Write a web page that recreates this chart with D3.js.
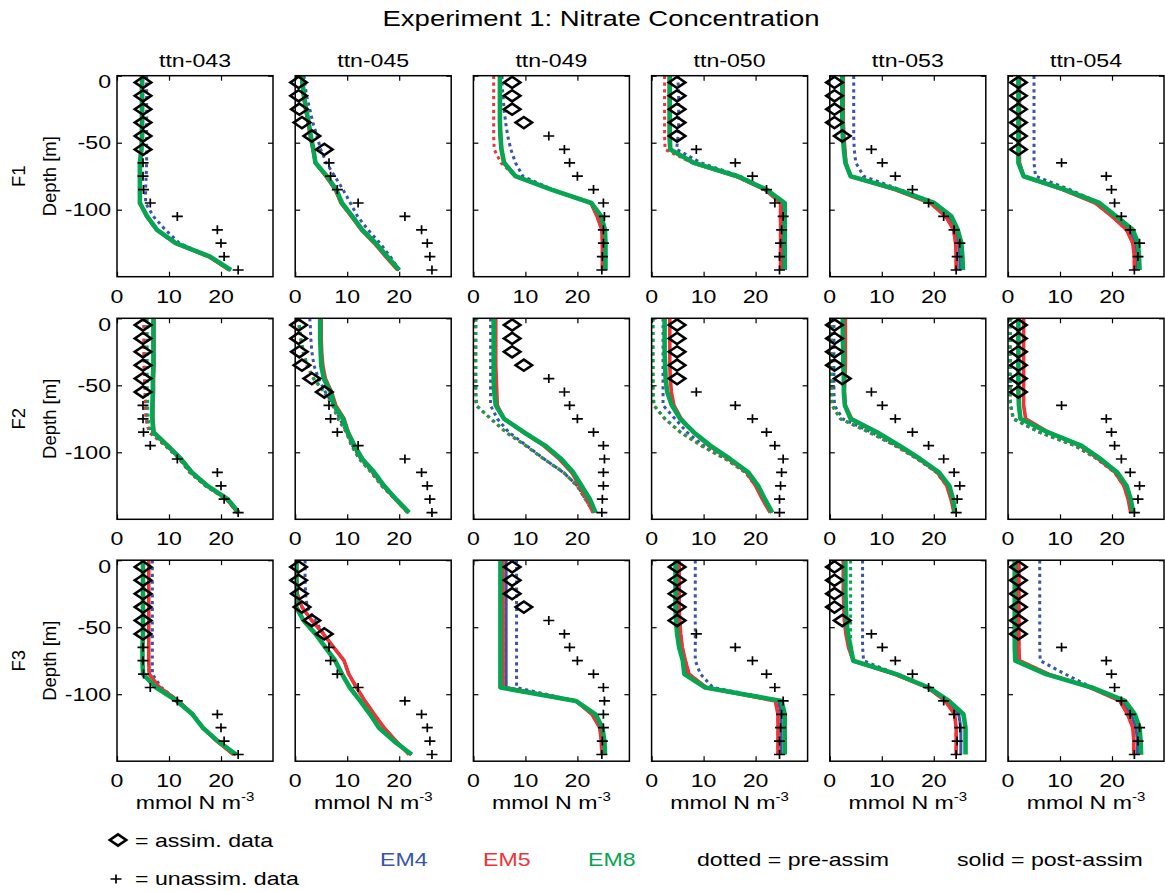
<!DOCTYPE html>
<html><head><meta charset="utf-8">
<script src="https://cdn.jsdelivr.net/npm/d3@7"></script>
<style>body{margin:0;background:#fff} svg{display:block} text{font-family:"Liberation Sans",Arial,Helvetica,sans-serif;}</style>
</head><body><svg id="c" width="1165" height="891"></svg>
<script>
// ---------------- data ----------------
const stations = ["ttn-043","ttn-045","ttn-049","ttn-050","ttn-053","ttn-054"];
const rowLabels = ["F1","F2","F3"];
const depths = [0,-5,-15,-25,-35,-45,-55,-65,-75,-85,-95,-105,-115,-125,-135,-145];
const xTicks = [0,10,20];
const yTicks = [0,-50,-100];

// observations (same in every row)
const assimDepth = [[-5,-15,-25,-35,-45,-55],[-5,-15,-25,-35,-45,-55],[-5,-15,-25,-35],[-5,-15,-25,-35,-45],[-5,-15,-25,-35,-45],[-5,-15,-25,-35,-45,-55]];
const assimVal = [[5.0,5.0,5.0,5.0,5.0,5.0],[0.65,0.65,0.8,1.3,3.2,5.6],[7.45,7.45,7.45,9.7],[4.9,4.9,4.9,4.9,4.9],[0.9,0.9,0.9,0.9,2.4],[2.0,2.0,2.0,2.0,2.0,2.0]];
const unassimDepth = [
 [-65,-75,-85,-95,-105,-115,-125,-135,-145],
 [-65,-75,-85,-95,-105,-115,-125,-135,-145],
 [-45,-55,-65,-75,-85,-95,-105,-115,-125,-135,-145],
 [-55,-65,-75,-85,-95,-105,-115,-125,-135,-145],
 [-55,-65,-75,-85,-95,-105,-115,-125,-135,-145],
 [-65,-75,-85,-95,-105,-115,-125,-135,-145]];
const unassimVal = [
 [5.0,5.0,5.1,6.4,11.6,19.3,20.0,20.6,23.3],
 [6.5,6.8,8.1,12.1,21.1,24.3,25.4,25.9,26.3],
 [14.5,17.5,18.5,20.0,23.1,25.0,25.2,25.0,25.0,24.8,24.7],
 [8.6,16.1,19.4,22.1,23.7,25.3,25.0,24.8,24.6,24.6],
 [8.0,10.1,12.6,15.9,19.0,21.9,23.9,25.0,24.5,24.3],
 [10.3,18.9,19.9,20.5,21.8,23.5,25.3,25.0,24.3]];

// ---- F1 model profiles (one row per station, values at `depths`) ----
const F1_EM4_pre = [
 [5.7,5.7,5.7,5.7,5.7,5.7,5.7,5.7,5.6,5.5,5.5,7.0,9.3,12.0,17.9,21.9],
 [1.7,1.8,2.2,2.8,3.4,4.2,4.9,6.0,7.6,9.2,10.6,12.0,14.0,16.3,18.3,20.0],
 [5.5,5.5,5.7,5.9,6.2,6.6,7.2,8.1,9.5,15.2,22.7,24.6,25.3,25.4,25.4,25.4],
 [5.1,5.1,5.2,5.2,5.2,5.1,4.8,9.5,17.0,22.1,25.6,25.6,25.6,25.6,25.6,25.6],
 [4.6,4.6,4.6,4.6,4.6,4.6,4.7,5.0,6.5,13.5,20.1,23.4,24.6,25.3,25.5,25.6],
 [5.0,5.0,5.0,5.0,5.0,5.0,5.0,5.0,5.3,11.9,17.6,20.8,24.0,25.0,25.2,25.3]];
const F1_EM5_pre = [
 [4.9,4.9,4.9,4.9,4.9,4.9,4.7,4.4,4.4,4.4,4.4,5.7,7.6,11.2,17.6,21.6],
 [1.2,1.3,1.6,2.0,2.5,2.9,3.4,3.9,5.9,7.7,8.8,10.8,12.7,15.2,17.4,19.7],
 [3.9,3.9,3.9,3.9,3.9,3.9,4.0,5.3,8.0,15.0,22.6,23.8,24.7,24.8,24.8,24.8],
 [2.5,2.5,2.5,2.5,2.5,2.5,2.6,7.8,16.2,21.8,24.8,24.8,24.8,24.8,24.8,24.8],
 [2.6,2.6,2.6,2.6,2.6,2.7,2.9,3.1,4.0,12.5,19.3,22.3,23.8,24.2,24.3,24.3],
 [2.2,2.2,2.2,2.2,2.2,2.2,2.2,2.2,3.0,10.5,16.8,20.0,22.8,24.0,24.3,24.3]];
const F1_EM8_pre = [
 [4.8,4.8,4.8,4.8,4.8,4.8,4.7,4.4,4.4,4.4,4.4,5.8,7.7,11.3,17.9,21.9],
 [1.3,1.4,1.7,2.1,2.6,3.0,3.5,3.9,6.1,7.9,9.0,11.0,12.9,15.5,17.7,20.0],
 [5.1,5.1,5.1,5.1,5.1,5.2,5.4,5.9,8.1,15.0,22.7,24.6,25.3,25.4,25.4,25.4],
 [3.5,3.5,3.5,3.5,3.5,3.5,3.6,8.1,16.5,22.1,25.6,25.6,25.6,25.6,25.6,25.6],
 [2.4,2.4,2.4,2.4,2.4,2.5,2.7,3.0,4.0,13.0,20.1,23.4,24.6,25.3,25.5,25.6],
 [2.0,2.0,2.0,2.0,2.0,2.0,2.0,2.0,3.0,10.9,17.6,20.8,24.0,25.0,25.2,25.3]];
const F1_EM4_post = [
 [4.8,4.8,4.8,4.8,4.8,4.8,4.7,4.4,4.4,4.4,4.4,5.8,7.7,11.3,17.9,21.9],
 [1.3,1.4,1.7,2.1,2.6,3.0,3.5,3.9,6.1,7.9,9.0,11.0,12.9,15.5,17.7,20.0],
 [5.1,5.1,5.1,5.1,5.1,5.2,5.4,5.9,8.1,15.0,22.7,24.3,25.0,25.1,25.1,25.1],
 [3.5,3.5,3.5,3.5,3.5,3.5,3.6,8.1,16.4,22.0,25.2,25.2,25.2,25.2,25.2,25.2],
 [2.5,2.5,2.5,2.5,2.5,2.6,2.8,3.0,4.0,12.8,19.7,22.9,24.2,24.8,25.0,25.0],
 [2.1,2.1,2.1,2.1,2.1,2.1,2.1,2.1,3.0,10.7,17.2,20.4,23.4,24.5,24.8,24.8]];
const F1_EM5_post = [
 [4.9,4.9,4.9,4.9,4.9,4.9,4.7,4.4,4.4,4.4,4.4,5.7,7.6,11.2,17.6,21.6],
 [1.2,1.3,1.6,2.0,2.5,2.9,3.4,3.9,5.9,7.7,8.8,10.8,12.7,15.2,17.4,19.7],
 [5.1,5.1,5.1,5.1,5.1,5.2,5.4,5.9,8.1,15.0,22.6,23.8,24.7,24.8,24.8,24.8],
 [3.4,3.4,3.4,3.4,3.4,3.4,3.5,8.0,16.2,21.8,24.8,24.8,24.8,24.8,24.8,24.8],
 [2.6,2.6,2.6,2.6,2.6,2.7,2.9,3.1,4.0,12.5,19.3,22.3,23.8,24.2,24.3,24.3],
 [2.2,2.2,2.2,2.2,2.2,2.2,2.2,2.2,3.0,10.5,16.8,20.0,22.8,24.0,24.3,24.3]];
const F1_EM8_post = [
 [4.8,4.8,4.8,4.8,4.8,4.8,4.7,4.4,4.4,4.4,4.4,5.8,7.7,11.3,17.9,21.9],
 [1.3,1.4,1.7,2.1,2.6,3.0,3.5,3.9,6.1,7.9,9.0,11.0,12.9,15.5,17.7,20.0],
 [5.1,5.1,5.1,5.1,5.1,5.2,5.4,5.9,8.1,15.0,22.7,24.6,25.3,25.4,25.4,25.4],
 [3.5,3.5,3.5,3.5,3.5,3.5,3.6,8.1,16.5,22.1,25.6,25.6,25.6,25.6,25.6,25.6],
 [2.4,2.4,2.4,2.4,2.4,2.5,2.7,3.0,4.0,13.0,20.1,23.4,24.6,25.3,25.5,25.6],
 [2.0,2.0,2.0,2.0,2.0,2.0,2.0,2.0,3.0,10.9,17.6,20.8,24.0,25.0,25.2,25.3]];

// ---- F2 ----
const F2_EM4_pre = [
 [5.2,5.2,5.2,5.2,5.2,5.3,5.4,5.5,5.6,6.2,9.3,12.0,14.0,17.0,21.0,23.2],
 [2.8,2.9,3.0,3.2,3.6,4.5,5.8,7.4,8.6,9.9,11.0,12.6,14.8,16.8,19.4,21.8],
 [3.3,3.3,3.3,3.3,3.3,3.3,3.3,3.3,4.6,6.8,10.2,13.6,17.3,20.0,21.6,23.1],
 [2.2,2.2,2.2,2.2,2.2,2.2,2.2,2.2,4.5,6.8,10.0,14.4,18.1,20.1,21.5,23.0],
 [0.8,0.8,0.8,0.8,0.8,0.8,0.8,0.9,2.5,8.0,12.8,17.0,20.6,22.6,23.4,24.0],
 [0.4,0.4,0.4,0.4,0.4,0.4,0.4,0.5,1.0,6.0,12.8,17.2,20.5,22.3,23.2,23.7]];
const F2_EM5_pre = [
 [5.2,5.2,5.2,5.2,5.2,5.3,5.4,5.5,5.6,6.2,9.3,12.0,14.0,17.0,21.0,23.2],
 [0.6,0.7,1.0,1.5,2.2,3.5,5.5,7.2,8.2,9.8,10.8,12.3,14.6,16.6,19.2,21.6],
 [0.4,0.4,0.4,0.4,0.4,0.4,0.4,0.5,3.3,6.2,10.0,13.5,17.3,19.9,21.5,23.1],
 [0.2,0.2,0.2,0.2,0.2,0.2,0.2,0.4,2.5,5.5,9.5,14.2,18.0,20.0,21.4,23.0],
 [0.3,0.3,0.3,0.3,0.3,0.3,0.3,0.4,2.0,7.5,12.5,16.8,20.5,22.5,23.3,23.9],
 [0.4,0.4,0.4,0.4,0.4,0.4,0.4,0.5,1.0,6.0,12.8,17.2,20.5,22.3,23.2,23.7]];
const F2_EM8_pre = [
 [5.8,5.8,5.8,5.8,5.8,5.8,5.8,5.9,6.0,6.5,9.5,12.1,14.1,17.1,21.1,23.3],
 [0.7,0.8,1.1,1.6,2.3,3.6,5.6,7.3,8.3,9.9,10.9,12.4,14.7,16.7,19.3,21.7],
 [0.5,0.5,0.5,0.5,0.5,0.5,0.5,0.6,3.4,6.3,10.1,13.6,17.4,20.0,21.6,23.2],
 [0.3,0.3,0.3,0.3,0.3,0.3,0.3,0.5,2.6,5.6,9.6,14.3,18.1,20.1,21.5,23.1],
 [0.3,0.3,0.3,0.3,0.3,0.3,0.3,0.5,2.1,7.6,12.6,16.9,20.6,22.6,23.4,24.0],
 [0.4,0.4,0.4,0.4,0.4,0.4,0.4,0.5,1.1,6.1,12.9,17.3,20.6,22.4,23.3,23.8]];
const F2_EM4_post = [
 [7.0,7.0,7.0,7.0,7.0,6.9,6.9,6.8,6.8,7.0,9.7,12.3,14.4,17.4,21.3,23.4],
 [4.8,4.8,4.8,4.9,5.0,5.5,6.8,7.5,9.2,10.1,11.4,12.9,15.2,17.1,19.4,21.9],
 [3.9,3.9,3.9,3.9,3.9,3.9,4.0,4.3,5.9,9.7,13.8,16.9,19.2,20.8,22.4,23.5],
 [2.5,2.5,2.5,2.5,2.6,2.7,3.0,3.9,5.5,8.1,11.3,15.1,18.6,20.5,21.8,23.2],
 [2.5,2.5,2.5,2.6,2.6,2.7,2.7,2.9,4.0,9.1,13.4,17.4,21.0,23.0,23.7,24.1],
 [2.0,2.0,2.0,2.0,2.0,2.0,2.0,2.1,2.4,7.6,14.1,17.8,21.0,22.8,23.6,24.1]];
const F2_EM5_post = [
 [7.1,7.1,7.1,7.1,7.1,7.0,7.0,6.9,6.9,7.1,9.8,12.3,14.4,17.3,21.1,23.2],
 [5.0,5.0,5.0,5.1,5.3,5.8,7.0,7.8,9.4,10.2,11.4,12.9,15.1,17.0,19.3,21.7],
 [4.3,4.3,4.3,4.3,4.3,4.4,4.5,4.6,5.9,9.6,13.5,16.5,18.9,20.4,21.9,23.0],
 [3.5,3.5,3.5,3.5,3.5,3.6,3.8,4.3,5.7,8.0,11.0,14.8,18.3,20.0,21.3,22.8],
 [3.0,3.0,3.0,3.0,3.0,2.9,2.8,3.0,4.2,9.0,13.2,17.2,20.7,22.5,23.3,23.9],
 [3.0,3.0,3.0,3.0,3.0,3.0,3.0,3.0,3.4,7.8,13.8,17.4,20.6,22.3,23.1,23.6]];
const F2_EM8_post = [
 [7.0,7.0,7.0,7.0,7.0,6.9,6.9,6.8,6.8,7.0,9.7,12.3,14.4,17.4,21.3,23.4],
 [4.8,4.8,4.8,4.9,5.0,5.5,6.8,7.5,9.2,10.1,11.4,12.9,15.2,17.1,19.4,21.9],
 [3.9,3.9,3.9,3.9,3.9,3.9,4.0,4.3,5.9,9.7,13.8,16.9,19.2,20.8,22.4,23.5],
 [2.5,2.5,2.5,2.5,2.6,2.7,3.0,3.9,5.5,8.1,11.3,15.1,18.6,20.5,21.8,23.2],
 [2.5,2.5,2.5,2.6,2.6,2.7,2.7,2.9,4.0,9.1,13.4,17.4,21.0,23.0,23.7,24.1],
 [2.0,2.0,2.0,2.0,2.0,2.0,2.0,2.1,2.4,7.6,14.1,17.8,21.0,22.8,23.6,24.1]];

// ---- F3 ----
const F3_EM4_pre = [
 [6.8,6.8,6.8,6.8,6.8,6.8,6.8,6.8,6.8,6.8,8.5,11.8,14.6,16.5,19.2,22.4],
 [1.9,1.9,1.9,2.0,2.3,3.8,5.5,7.4,9.4,10.3,11.8,13.4,15.2,17.1,19.4,21.9],
 [8.3,8.3,8.3,8.3,8.3,8.3,8.3,8.3,8.3,8.3,8.3,19.7,23.5,24.8,25.2,25.3],
 [8.4,8.4,8.4,8.4,8.4,8.4,8.4,8.4,8.4,9.4,11.8,25.0,25.6,25.6,25.6,25.6],
 [6.3,6.3,6.3,6.3,6.3,6.3,6.3,6.3,6.5,12.8,19.0,22.9,25.7,26.1,26.1,26.1],
 [6.1,6.1,6.1,6.1,6.1,6.1,6.1,6.1,6.2,11.0,16.1,22.5,24.4,25.3,25.5,25.6]];
const F3_EM5_pre = [
 [6.1,6.1,6.1,6.1,6.1,6.1,6.1,6.1,6.1,6.2,8.2,11.8,14.6,16.5,19.2,22.4],
 [0.3,0.3,0.3,0.4,1.3,3.2,5.4,7.4,9.4,10.3,11.8,13.4,15.2,17.1,19.4,21.9],
 [5.7,5.7,5.7,5.7,5.7,5.7,5.7,5.7,5.7,5.7,5.7,19.7,22.8,24.3,24.6,24.7],
 [5.3,5.3,5.3,5.3,5.3,5.4,5.6,5.9,6.5,7.2,10.5,23.8,24.3,24.3,24.3,24.3],
 [2.6,2.6,2.6,2.6,2.7,2.8,3.1,3.6,4.5,12.4,18.8,22.2,24.0,24.3,24.3,24.3],
 [2.1,2.1,2.1,2.1,2.1,2.1,2.1,2.1,2.2,7.8,15.8,21.5,23.0,24.0,24.2,24.2]];
const F3_EM8_pre = [
 [5.0,5.0,5.0,5.0,5.0,5.0,5.0,4.9,4.9,5.0,7.5,11.5,14.5,16.5,19.4,22.9],
 [0.2,0.2,0.2,0.2,0.2,1.6,3.9,5.8,7.7,9.0,10.5,12.5,14.4,16.1,19.0,22.4],
 [5.2,5.2,5.2,5.2,5.2,5.2,5.2,5.2,5.2,5.2,5.2,19.7,23.5,24.8,25.2,25.3],
 [4.6,4.6,4.6,4.6,4.6,4.7,4.9,5.3,6.0,6.3,10.3,25.0,25.6,25.6,25.6,25.6],
 [4.0,4.0,4.0,4.0,4.0,4.0,4.0,4.0,4.5,12.8,19.0,22.9,25.7,26.1,26.1,26.1],
 [1.3,1.3,1.3,1.3,1.3,1.3,1.3,1.3,1.4,7.3,16.1,22.5,24.4,25.3,25.5,25.6]];
const F3_EM4_post = [
 [5.0,5.0,5.0,5.0,5.0,5.0,5.0,4.9,4.9,5.0,7.5,11.5,14.5,16.5,19.4,22.9],
 [0.2,0.2,0.2,0.2,0.2,1.6,3.9,5.8,7.7,9.0,10.5,12.5,14.4,16.1,19.0,22.4],
 [6.3,6.3,6.3,6.3,6.3,6.3,6.3,6.3,6.3,6.3,6.3,19.7,23.2,24.6,24.9,25.0],
 [5.0,5.0,5.0,5.0,5.0,5.1,5.3,5.6,6.2,6.8,10.4,24.4,24.9,24.9,24.9,24.9],
 [2.8,2.8,2.8,2.8,2.9,3.0,3.3,3.8,4.5,12.6,18.9,22.5,24.8,25.2,25.2,25.2],
 [1.7,1.7,1.7,1.7,1.7,1.7,1.7,1.7,1.8,7.5,16.0,22.0,23.7,24.6,24.9,24.9]];
const F3_EM5_post = [
 [6.1,6.1,6.1,6.1,6.1,6.1,6.1,6.1,6.1,6.2,8.2,11.8,14.6,16.5,19.2,22.4],
 [0.3,0.3,0.3,0.4,1.3,3.2,5.4,7.4,9.4,10.3,11.8,13.4,15.2,17.1,19.4,21.9],
 [5.7,5.7,5.7,5.7,5.7,5.7,5.7,5.7,5.7,5.7,5.7,19.7,22.8,24.3,24.6,24.7],
 [5.3,5.3,5.3,5.3,5.3,5.4,5.6,5.9,6.5,7.2,10.5,23.8,24.3,24.3,24.3,24.3],
 [2.6,2.6,2.6,2.6,2.7,2.8,3.1,3.6,4.5,12.4,18.8,22.2,24.0,24.3,24.3,24.3],
 [2.1,2.1,2.1,2.1,2.1,2.1,2.1,2.1,2.2,7.8,15.8,21.5,23.0,24.0,24.2,24.2]];
const F3_EM8_post = [
 [5.0,5.0,5.0,5.0,5.0,5.0,5.0,4.9,4.9,5.0,7.5,11.5,14.5,16.5,19.4,22.9],
 [0.2,0.2,0.2,0.2,0.2,1.6,3.9,5.8,7.7,9.0,10.5,12.5,14.4,16.1,19.0,22.4],
 [5.2,5.2,5.2,5.2,5.2,5.2,5.2,5.2,5.2,5.2,5.2,19.7,23.5,24.8,25.2,25.3],
 [4.6,4.6,4.6,4.6,4.6,4.7,4.9,5.3,6.0,6.3,10.3,25.0,25.6,25.6,25.6,25.6],
 [3.0,3.0,3.0,3.0,3.1,3.2,3.5,4.0,4.5,12.8,19.0,22.9,25.7,26.1,26.1,26.1],
 [1.3,1.3,1.3,1.3,1.3,1.3,1.3,1.3,1.4,7.3,16.1,22.5,24.4,25.3,25.5,25.6]];

const legendModels = ["EM4","EM5","EM8"];

// ---------------- drawing ----------------
const rows = [
 {pre:[F1_EM4_pre,F1_EM5_pre,F1_EM8_pre], post:[F1_EM4_post,F1_EM5_post,F1_EM8_post]},
 {pre:[F2_EM4_pre,F2_EM5_pre,F2_EM8_pre], post:[F2_EM4_post,F2_EM5_post,F2_EM8_post]},
 {pre:[F3_EM4_pre,F3_EM5_pre,F3_EM8_pre], post:[F3_EM4_post,F3_EM5_post,F3_EM8_post]}];
const colors = ["#3a55a6","#ee3436","#06a552"];
const postWidth = [3,3.6,4.6];
const SX = 1.25;               // horizontal text stretch seen in reference
const FS = 18.5;
const W = 156, H = 201;
const lefts = stations.map((s,i)=>117 + i*178.2);
const tops = [75.7, 318.3, 560.2];
const svg = d3.select("#c");

function htext(x,y,s,o={}){
  return svg.append("text")
    .attr("transform",`translate(${x},${y}) scale(${o.sx||SX},1)`)
    .attr("text-anchor",o.anchor||"middle")
    .attr("font-size",o.size||FS)
    .attr("fill",o.fill||"#000")
    .text(s);
}
function vtext(x,y,s,o={}){
  return svg.append("text")
    .attr("transform",`translate(${x},${y}) rotate(-90)`)
    .attr("text-anchor","middle")
    .attr("font-size",o.size||FS)
    .attr("fill","#000")
    .text(s);
}
const diamond = "M0,-5.6L8.2,0L0,5.6L-8.2,0Z";
const plus = "M-5.5,0H5.5M0,-4.5V4.5";

htext(601,26,"Experiment 1: Nitrate Concentration",{size:22});

rows.forEach((row,r)=>{
  const T = tops[r];
  vtext(25, T+H/2, rowLabels[r]);
  vtext(56, T+H/2, "Depth [m]");
  stations.forEach((st,c)=>{
    const L = lefts[c];
    const x = d3.scaleLinear().domain([0,30]).range([L,L+W]);
    const y = d3.scaleLinear().domain([-150,0]).range([T+H,T]);
    const g = svg.append("g");
    const cid = `clip${r}_${c}`;
    g.append("clipPath").attr("id",cid).append("rect").attr("x",L).attr("y",T).attr("width",W).attr("height",H);
    const pg = g.append("g").attr("clip-path",`url(#${cid})`);
    const line = d3.line().x(d=>x(d[1])).y(d=>y(d[0]));
    row.pre.forEach((arr,m)=>{
      pg.append("path").datum(depths.map((d,k)=>[d,arr[c][k]])).attr("d",line)
        .attr("fill","none").attr("stroke",colors[m]).attr("stroke-width",3)
        .attr("stroke-dasharray","3.2,3.6");
    });
    row.post.forEach((arr,m)=>{
      pg.append("path").datum(depths.map((d,k)=>[d,arr[c][k]])).attr("d",line)
        .attr("fill","none").attr("stroke",colors[m]).attr("stroke-width",postWidth[m])
        .attr("stroke-linejoin","round");
    });
    g.selectAll(".dia").data(assimDepth[c].map((d,k)=>[d,assimVal[c][k]])).join("path")
      .attr("d",diamond).attr("transform",d=>`translate(${x(d[1])},${y(d[0])})`)
      .attr("fill","none").attr("stroke","#000").attr("stroke-width",2.6);
    g.selectAll(".pl").data(unassimDepth[c].map((d,k)=>[d,unassimVal[c][k]])).join("path")
      .attr("d",plus).attr("transform",d=>`translate(${x(d[1])},${y(d[0])})`)
      .attr("fill","none").attr("stroke","#000").attr("stroke-width",1.7);
    const ax = [
      [d3.axisBottom(x).tickValues(xTicks), T+H, "x"],
      [d3.axisTop(x).tickValues(xTicks), T, "x"],
      [d3.axisLeft(y).tickValues(yTicks), L, "y"],
      [d3.axisRight(y).tickValues(yTicks), L+W, "y"]];
    ax.forEach(([a,pos,t])=>{
      const gg = g.append("g").attr("transform", t==="x" ? `translate(0,${pos})` : `translate(${pos},0)`)
        .call(a.tickSizeInner(-5).tickSizeOuter(0).tickFormat(""));
      gg.select(".domain").remove();
      gg.selectAll("line").attr("stroke","#000").attr("stroke-width",1.2);
    });
    g.append("rect").attr("x",L).attr("y",T).attr("width",W).attr("height",H)
      .attr("fill","none").attr("stroke","#000").attr("stroke-width",1.5);
    xTicks.forEach(t=>htext(x(t), T+H+26, String(t)));
    if(c===0){
      yTicks.forEach(t=>htext(L-6, (t===0? y(t)+6 : y(t)) + 6.6, String(t),{anchor:"end"}));
    }
    if(r===0) htext(L+W/2, 66.5, st);
    if(r===2){
      const tt = htext(L+W/2, T+H+48, "mmol N m");
      tt.append("tspan").attr("font-size",12).attr("dy",-8).text("-3");
    }
  });
});

// legend
svg.append("path").attr("d",diamond).attr("transform","translate(118,840)")
  .attr("fill","none").attr("stroke","#000").attr("stroke-width",2.6);
htext(135,847,"= assim. data",{anchor:"start"});
svg.append("path").attr("d",plus).attr("transform","translate(116,879)")
  .attr("fill","none").attr("stroke","#000").attr("stroke-width",1.7);
htext(135,885,"= unassim. data",{anchor:"start"});
const legX = [380,483,588];
legendModels.forEach((m,i)=>htext(legX[i],866,m,{anchor:"start",fill:colors[i]}));
htext(697,866,"dotted = pre-assim",{anchor:"start"});
htext(957,866,"solid = post-assim",{anchor:"start"});
</script></body></html>
